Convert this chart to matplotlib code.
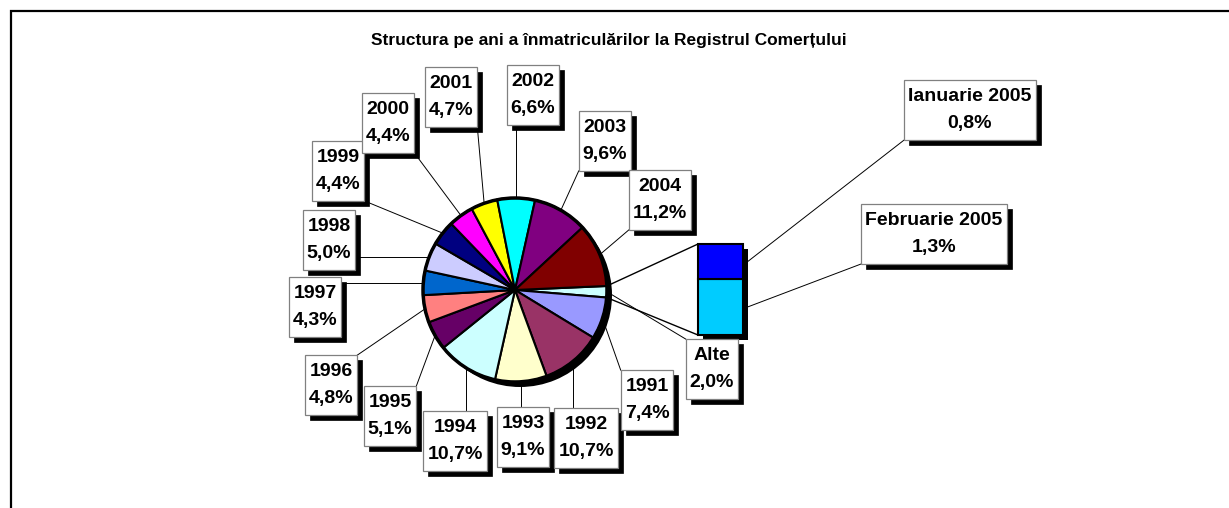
import numpy as np
import matplotlib.pyplot as plt
from matplotlib.patches import Rectangle

W, H = 1229, 508

# date (procente)
ani = ['Alte', '1991', '1992', '1993', '1994', '1995', '1996', '1997',
       '1998', '1999', '2000', '2001', '2002', '2003', '2004']
procente = [2.0, 7.4, 10.7, 9.1, 10.7, 5.1, 4.8, 4.3, 5.0, 4.4, 4.4, 4.7, 6.6, 9.6, 11.2]
culori = ['#CCFFFF', '#9999FF', '#993366', '#FFFFCC', '#CCFFFF', '#660066', '#FF8080',
          '#0066CC', '#CCCCFF', '#000080', '#FF00FF', '#FFFF00', '#00FFFF', '#800080', '#800000']

luni = ['Februarie 2005', 'Ianuarie 2005']
procente_luni = [1.3, 0.8]
culori_luni = ['#00CCFF', '#0000FF']

titlu = 'Structura pe ani a înmatriculărilor la Registrul Comerțului'

# pozitia etichetelor (px, de sus-stanga)
poz_etichete = [(712, 369), (647, 400), (586, 438), (523, 437), (455, 441), (390, 416),
                (331, 385), (315, 307), (329, 240), (338, 171), (388, 123), (451, 97),
                (533, 95), (605, 141), (660, 200)]
poz_luni = [(934, 234), (970, 110)]


def Y(p):
  return H - p


def fmt(v):
  return ('%.1f%%' % v).replace('.', ',')


plt.rcParams['font.family'] = ['Liberation Sans', 'DejaVu Sans']

fig = plt.figure(figsize=(W / 100, H / 100), dpi=100)
ax = fig.add_axes([0, 0, 1, 1])

#pie
cx, cy, r = 515, Y(290), 92
ax.pie([1], radius=r, center=(cx + 5, cy - 5), colors=['black'], frame=True)
wedges, _ = ax.pie(procente, colors=culori, startangle=2.5, counterclock=False, radius=r,
                   center=(cx, cy), wedgeprops=dict(edgecolor='black', linewidth=1.5), frame=True)
ax.pie([1], radius=r, center=(cx, cy), colors=['none'],
       wedgeprops=dict(edgecolor='black', linewidth=2.5), frame=True)

#bar for "Alte"
bx, bw = 720.5, 45
base = Y(335)
k = 91 / 2.1
hs = [v * k for v in procente_luni]
ax.bar(bx + 5, sum(hs), bottom=base - 5, width=bw, color='black', zorder=3)
ax.bar([bx, bx], hs, bottom=[base, base + hs[0]], width=bw, color=culori_luni,
       edgecolor='black', linewidth=1.5, zorder=4)

# lines pie -> bar
w0 = wedges[0]
for th, yb in [(w0.theta2, base + sum(hs)), (w0.theta1, base)]:
  px = cx + r * np.cos(np.radians(th))
  py = cy + r * np.sin(np.radians(th))
  ax.plot([px, bx - bw / 2], [py, yb], color='black', lw=1.0, zorder=2)

#labels (text first, boxes after measuring)
txt_kw = dict(ha='center', va='center', multialignment='center', fontsize=14,
              fontweight='bold', linespacing=1.75, zorder=7)
etichete = []
for nume, v, (x, y) in zip(ani + luni, procente + procente_luni, poz_etichete + poz_luni):
  t = ax.text(x, Y(y), nume + '\n' + fmt(v), color='black', **txt_kw)
  etichete.append(t)

ax.text(609, Y(40), titlu, ha='center', va='center', fontsize=12.5, fontweight='bold')

ax.set_xlim(0, W)
ax.set_ylim(0, H)
ax.set_aspect('auto')
ax.axis('off')

fig.canvas.draw()
inv = ax.transData.inverted()
rend = fig.canvas.get_renderer()

boxes = []
for t in etichete:
  bb = t.get_window_extent(rend)
  (x0, y0), (x1, y1) = inv.transform([[bb.x0, bb.y0], [bb.x1, bb.y1]])
  x0, x1, y0, y1 = x0 - 4, x1 + 4, y0 - 8, y1 + 8
  ax.add_patch(Rectangle((x0 + 5, y0 - 5), x1 - x0, y1 - y0, fc='black', ec='black', lw=0.5, zorder=5))
  ax.add_patch(Rectangle((x0, y0), x1 - x0, y1 - y0, fc='white', ec='#808080', lw=0.9, zorder=6))
  boxes.append((x0, y0, x1, y1))


def closest(px, py, b):
  x0, y0, x1, y1 = b
  return min(max(px, x0), x1), min(max(py, y0), y1)


# leader lines pie -> labels
for w, b in zip(wedges, boxes[:len(wedges)]):
  th = np.radians((w.theta1 + w.theta2) / 2)
  px, py = cx + r * np.cos(th), cy + r * np.sin(th)
  qx, qy = closest(px, py, b)
  ax.plot([px, qx], [py, qy], color='black', lw=0.7, zorder=1)

# leader lines bar -> month labels
bottoms = [base, base + hs[0]]
for b0, h, b in zip(bottoms, hs, boxes[len(wedges):]):
  px, py = bx + bw / 2 + 5, b0 + h / 2
  qx, qy = closest(px, py, b)
  ax.plot([px, qx], [py, qy], color='black', lw=0.7, zorder=1)

#frame
ax.add_patch(Rectangle((11, -20), W + 20, Y(11) + 20, fill=False, ec='black', lw=1.6, zorder=0))

fig.savefig('out.png', dpi=100)
